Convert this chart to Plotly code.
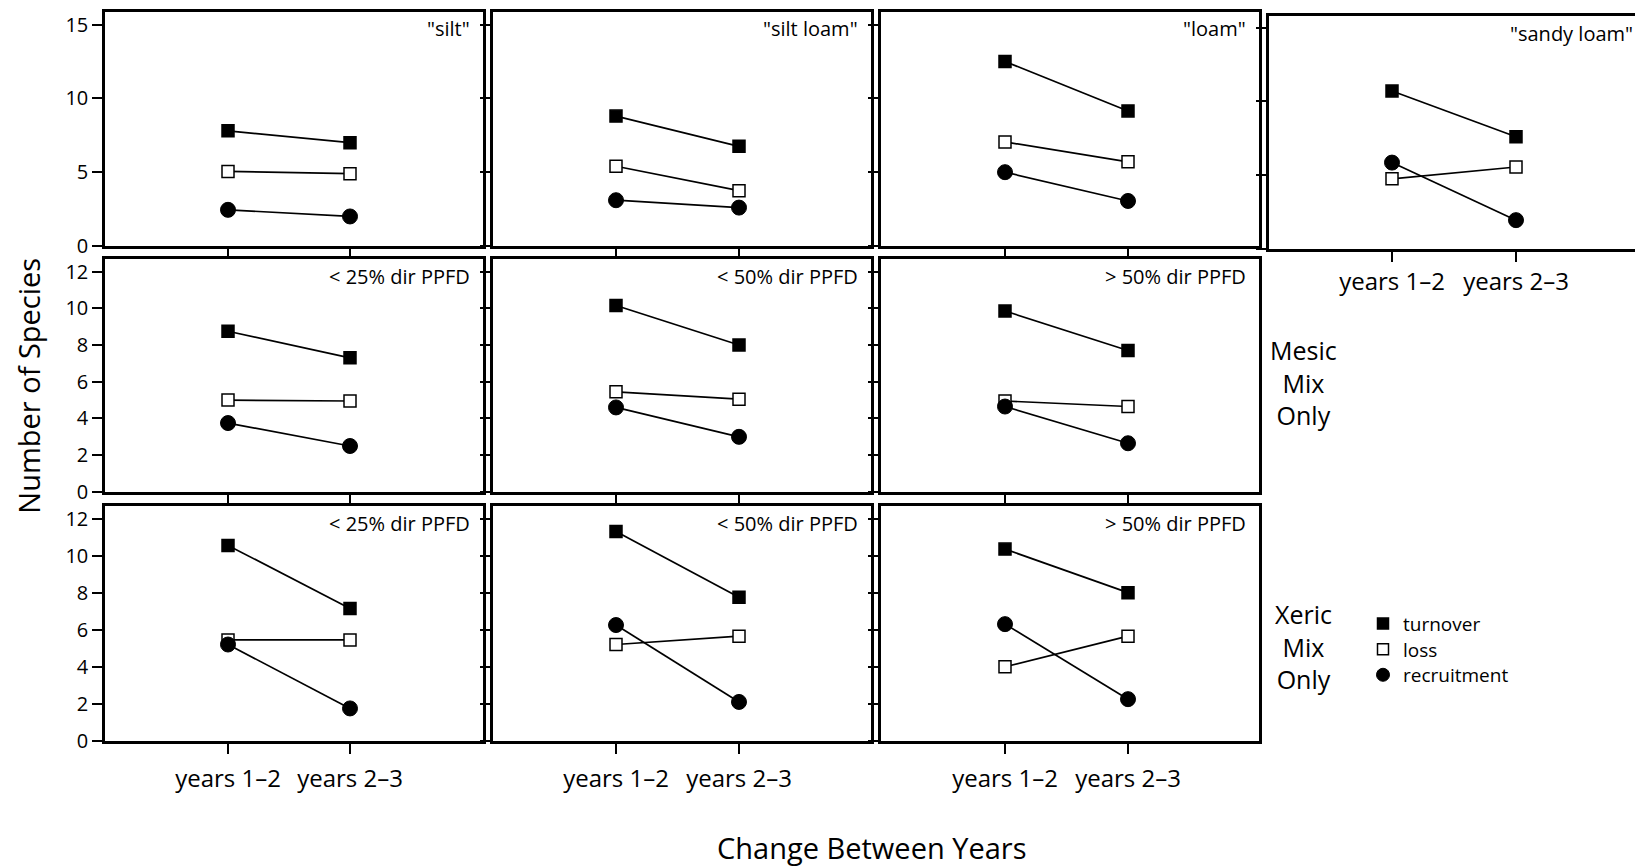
import plotly.graph_objects as go

W, H = 1635, 866
FONT = "Open Sans"

periods = ["years 1–2", "years 2–3"]
series_names = ["turnover", "loss", "recruitment"]

soil_labels = ['"silt"', '"silt loam"', '"loam"', '"sandy loam"']
light_labels = ["< 25% dir PPFD", "< 50% dir PPFD", "> 50% dir PPFD"]

# soil-texture panels (top row)
soil_turnover = [[7.8, 7.0], [8.8, 6.75], [12.5, 9.15], [10.7, 7.6]]
soil_loss = [[5.05, 4.9], [5.4, 3.75], [7.05, 5.7], [4.75, 5.55]]
soil_recruitment = [[2.45, 2.0], [3.1, 2.6], [5.0, 3.05], [5.85, 1.95]]

# mesic mix only (middle row)
mesic_turnover = [[8.75, 7.3], [10.15, 8.0], [9.85, 7.7]]
mesic_loss = [[5.0, 4.95], [5.45, 5.05], [4.95, 4.65]]
mesic_recruitment = [[3.75, 2.5], [4.6, 3.0], [4.65, 2.65]]

# xeric mix only (bottom row)
xeric_turnover = [[10.55, 7.15], [11.3, 7.75], [10.35, 8.0]]
xeric_loss = [[5.45, 5.45], [5.2, 5.65], [4.0, 5.65]]
xeric_recruitment = [[5.2, 1.75], [6.25, 2.1], [6.3, 2.25]]

row1_ticks = [0, 5, 10, 15]
row23_ticks = [0, 2, 4, 6, 8, 10, 12]

styles = {
    "turnover": dict(symbol="square", size=12, color="black", line=dict(color="black", width=1.5)),
    "loss": dict(symbol="square", size=12, color="white", line=dict(color="black", width=1.5)),
    "recruitment": dict(symbol="circle", size=15, color="black", line=dict(color="black", width=1)),
}

cols_px = [(105, 483), (493, 871), (881, 1259)]
rows_px = [(11, 249), (262, 499), (513, 752)]
unit = {0: 15.0, 1: 18.67, 2: 18.83}
tick_px = [(228, 350), (616, 739), (1005, 1128)]

panels = []
for r in range(3):
    for c in range(3):
        if r == 0:
            data = (soil_turnover[c], soil_loss[c], soil_recruitment[c]); label = soil_labels[c]
        elif r == 1:
            data = (mesic_turnover[c], mesic_loss[c], mesic_recruitment[c]); label = light_labels[c]
        else:
            data = (xeric_turnover[c], xeric_loss[c], xeric_recruitment[c]); label = light_labels[c]
        x0, x1 = cols_px[c]; y0, y1 = rows_px[r]
        t0, t1 = tick_px[c]; u = t1 - t0
        panels.append(dict(
            x0=x0, x1=x1, y0=y0, y1=y1,
            xr=[(x0 - t0) / u, (x1 - t0) / u],
            yr=[0, (y1 - y0) / unit[r]],
            yticks=row1_ticks if r == 0 else row23_ticks,
            xlabels=(r == 2), ylabels=(c == 0), data=data, label=label, full=True,
            loff=17 if r == 0 else 18, standoff=5,
        ))
# sandy loam panel (top right, cut at page edge)
panels.append(dict(
    x0=1269, x1=W, y0=15, y1=252,
    xr=[(1269 - 1392) / 124, (W - 1392) / 124],
    yr=[0, (252 - 15) / 15.0],
    yticks=row1_ticks, xlabels=True, ylabels=False,
    data=(soil_turnover[3], soil_loss[3], soil_recruitment[3]), label=soil_labels[3], full=False,
    loff=18, standoff=0,
))

fig = go.Figure()
layout = {}
annotations = []
for i, p in enumerate(panels):
    n = i + 1
    xa = "xaxis" if n == 1 else f"xaxis{n}"
    ya = "yaxis" if n == 1 else f"yaxis{n}"
    xr = "x" if n == 1 else f"x{n}"
    yr = "y" if n == 1 else f"y{n}"
    for name, vals in zip(series_names, p["data"]):
        fig.add_trace(go.Scatter(
            x=periods, y=vals, mode="lines+markers", xaxis=xr, yaxis=yr,
            line=dict(color="black", width=1.7), marker=styles[name],
            showlegend=False, cliponaxis=False,
        ))
    layout[xa] = dict(
        domain=[p["x0"] / W, min(p["x1"] / W, 1.0)], anchor=yr, type="category",
        categoryarray=periods, range=p["xr"], showgrid=False, zeroline=False,
        showline=True, mirror=True, linecolor="black", linewidth=2.5,
        ticks="outside", ticklen=10, tickwidth=2, tickcolor="black",
        tickvals=periods, showticklabels=p["xlabels"], ticklabelstandoff=p["standoff"],
        tickfont=dict(family=FONT, size=24, color="black"),
    )
    layout[ya] = dict(
        domain=[1 - p["y1"] / H, 1 - p["y0"] / H], anchor=xr, range=p["yr"],
        showgrid=False, zeroline=False, showline=True, mirror=p["full"],
        linecolor="black", linewidth=2.5, ticks="outside", ticklen=10,
        tickwidth=2, tickcolor="black", tickvals=p["yticks"],
        showticklabels=p["ylabels"], tickfont=dict(family=FONT, size=20, color="black"),
    )
    lx = (p["x1"] - 11) / W if p["full"] else 1.0
    ly = p["y0"] + p["loff"]
    annotations.append(dict(
        text=p["label"], xref="paper", yref="paper", x=lx, y=1 - ly / H,
        xanchor="right", yanchor="middle", showarrow=False,
        font=dict(family=FONT, size=20, color="black"),
    ))

# legend entries, one legend box per row so the row spacing matches
legend_rows_px = [633, 659, 685]
legend_ids = ["legend", "legend2", "legend3"]
legends = {}
for name, lid, ly in zip(series_names, legend_ids, legend_rows_px):
    fig.add_trace(go.Scatter(
        x=[None], y=[None], mode="markers", name=name, legend=lid,
        marker={**styles[name], "size": 11 if name != "recruitment" else 13},
        showlegend=True,
    ))
    legends[lid] = dict(x=1363 / W, y=1 - ly / H, xanchor="left", yanchor="middle",
                        bgcolor="rgba(0,0,0,0)", font=dict(family=FONT, size=19, color="black"),
                        itemwidth=30)

for text, x, y in [("Mesic<br>Mix<br>Only", 1303, 388), ("Xeric<br>Mix<br>Only", 1303, 656)]:
    annotations.append(dict(
        text=text, xref="paper", yref="paper", x=x / W, y=1 - y / H,
        xanchor="center", yanchor="middle", showarrow=False, align="center",
        font=dict(family=FONT, size=25, color="black"),
    ))

annotations.append(dict(
    text="Number of Species", xref="paper", yref="paper", x=29 / W, y=1 - 391 / H,
    xanchor="center", yanchor="middle", textangle=-90, showarrow=False,
    font=dict(family=FONT, size=29, color="black"),
))
annotations.append(dict(
    text="Change Between Years", xref="paper", yref="paper", x=872 / W, y=1 - 860 / H,
    xanchor="center", yanchor="middle", showarrow=False,
    font=dict(family=FONT, size=29, color="black"),
))

fig.update_layout(
    width=W, height=H, margin=dict(l=0, r=0, t=0, b=0),
    paper_bgcolor="white", plot_bgcolor="white",
    annotations=annotations,
    **legends,
    **layout,
)

fig.write_html("out.html")
